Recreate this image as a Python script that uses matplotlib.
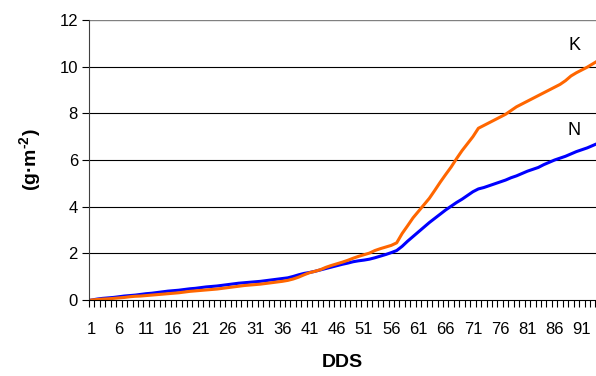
import matplotlib
matplotlib.use('Agg')
import matplotlib.pyplot as plt
import numpy as np

plt.rcParams['font.family'] = ['Liberation Sans', 'DejaVu Sans']
plt.rcParams['mathtext.fontset'] = 'custom'
plt.rcParams['mathtext.rm'] = 'Liberation Sans:bold'
plt.rcParams['mathtext.it'] = 'Liberation Sans:bold'
plt.rcParams['mathtext.bf'] = 'Liberation Sans:bold'

# days (categories) 1..94
dds = list(range(1, 95))

# N accumulation (g m-2)
n_vals = [0.00, 0.04, 0.07, 0.09, 0.11, 0.14, 0.17, 0.19, 0.21, 0.24,
          0.27, 0.29, 0.32, 0.35, 0.38, 0.40, 0.42, 0.45, 0.48, 0.50,
          0.53, 0.56, 0.58, 0.60, 0.63, 0.66, 0.69, 0.72, 0.74, 0.76,
          0.78, 0.80, 0.83, 0.86, 0.89, 0.92, 0.95, 1.01, 1.08, 1.14,
          1.18, 1.23, 1.29, 1.35, 1.41, 1.47, 1.53, 1.58, 1.64, 1.68,
          1.71, 1.75, 1.81, 1.88, 1.95, 2.03, 2.12, 2.30, 2.52, 2.72,
          2.92, 3.12, 3.32, 3.50, 3.68, 3.86, 4.02, 4.18, 4.32, 4.48,
          4.64, 4.76, 4.82, 4.90, 4.98, 5.06, 5.14, 5.24, 5.32, 5.42,
          5.52, 5.60, 5.68, 5.80, 5.90, 6.00, 6.08, 6.16, 6.26, 6.36,
          6.44, 6.52, 6.62, 6.72]

# K accumulation (g m-2)
k_vals = [0.00, 0.02, 0.04, 0.05, 0.07, 0.09, 0.11, 0.14, 0.16, 0.17,
          0.19, 0.21, 0.23, 0.25, 0.27, 0.29, 0.31, 0.34, 0.37, 0.39,
          0.41, 0.43, 0.45, 0.47, 0.50, 0.53, 0.56, 0.59, 0.62, 0.64,
          0.66, 0.68, 0.71, 0.74, 0.77, 0.80, 0.84, 0.90, 0.98, 1.08,
          1.17, 1.23, 1.30, 1.40, 1.48, 1.55, 1.62, 1.70, 1.79, 1.87,
          1.94, 2.01, 2.12, 2.20, 2.27, 2.34, 2.45, 2.85, 3.18, 3.52,
          3.80, 4.08, 4.36, 4.70, 5.05, 5.38, 5.70, 6.06, 6.40, 6.70,
          7.00, 7.36, 7.48, 7.60, 7.72, 7.84, 7.96, 8.12, 8.28, 8.40,
          8.52, 8.64, 8.76, 8.88, 9.00, 9.12, 9.24, 9.40, 9.60, 9.74,
          9.86, 9.98, 10.12, 10.26]

fig = plt.figure(figsize=(5.96, 3.76), dpi=100)
ax = fig.add_axes([89/596, 76/376, 507/596, 280/376])

ax.plot(dds, n_vals, color='#0000FF', lw=2.2)
ax.plot(dds, k_vals, color='#FF6600', lw=2.2)

ax.set_xlim(0.5, 93.6)
ax.set_ylim(0, 12)

ax.set_yticks(np.arange(0, 13, 2))
for v in range(2, 12, 2):
    ax.axhline(v, color='black', lw=0.8, zorder=0)
ax.axhline(12, color='#808080', lw=1.0, zorder=0)

ax.set_xticks(np.arange(1, 92, 5))
ax.set_xticks(np.arange(0.5, 94, 1), minor=True)
ax.tick_params(axis='x', which='major', length=0, pad=16, labelsize=12)
ax.tick_params(axis='x', which='minor', length=5, width=0.8, direction='out')
ax.tick_params(axis='y', length=5, width=0.8, labelsize=12, pad=3)

for s in ['top', 'right']:
    ax.spines[s].set_visible(False)
ax.spines['left'].set_color('#404040')
ax.spines['bottom'].set_color('black')

ax.set_ylabel('(g·m$^{\\text{-2}}$)', fontsize=14, fontweight='bold', labelpad=12)
ax.set_xlabel('DDS', fontsize=14, fontweight='bold', labelpad=12)

ax.text(89.6, 10.9, 'K', fontsize=13, ha='center', va='center')
ax.text(89.6, 7.25, 'N', fontsize=13, ha='center', va='center')

fig.savefig('out.png', dpi=100)
